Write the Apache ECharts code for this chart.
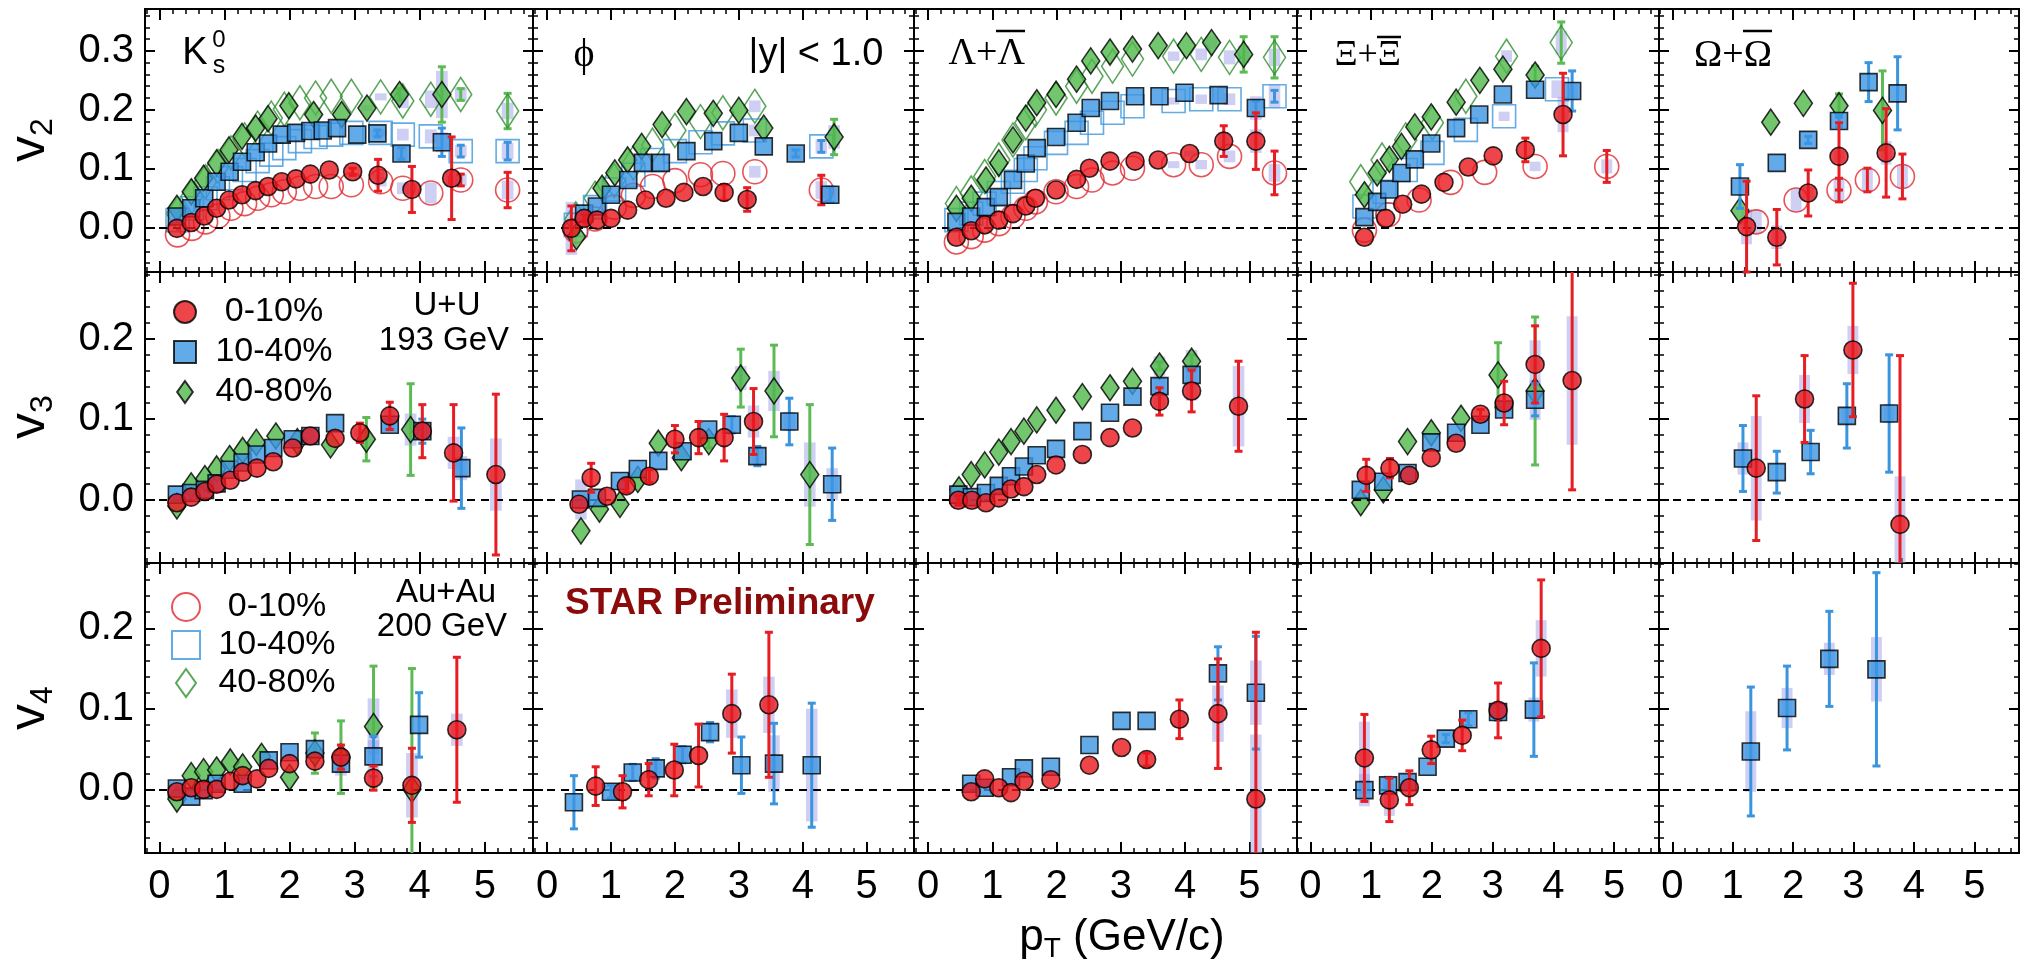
<!DOCTYPE html>
<html>
<head>
<meta charset="utf-8">
<script src="https://cdn.jsdelivr.net/npm/echarts@6/dist/echarts.min.js"></script>
<style>
html, body { margin: 0; padding: 0; background: #fff; }
#chart { width: 2026px; height: 963px; }
</style>
</head>
<body>
<div id="chart"></div>
<script>
// each point: [pT, v, stat err, sys err]

// ---- v2 ----
var v2_K0s_UU_0_10 = [[0.27,-0.001,0,0],[0.49,0.009,0,0],[0.69,0.020,0,0],[0.88,0.033,0,0],[1.07,0.047,0,0],[1.27,0.056,0,0],[1.48,0.063,0,0],[1.67,0.070,0,0],[1.88,0.078,0,0],[2.10,0.083,0,0],[2.32,0.091,0,0],[2.61,0.098,0,0],[2.97,0.095,0.006,0],[3.36,0.089,0.027,0.006],[3.88,0.065,0.039,0.01],[4.49,0.084,0.07,0.015]];
var v2_K0s_UU_10_40 = [[0.27,0.019,0,0],[0.49,0.033,0,0],[0.69,0.050,0,0],[0.88,0.078,0,0],[1.08,0.095,0,0],[1.27,0.112,0,0],[1.48,0.128,0,0],[1.67,0.143,0,0],[1.88,0.158,0,0],[2.10,0.161,0,0],[2.32,0.164,0,0],[2.51,0.165,0,0],[2.73,0.169,0,0],[3.04,0.158,0,0],[3.35,0.160,0.006,0.005],[3.72,0.126,0.01,0.01],[4.34,0.145,0.024,0.017]];
var v2_K0s_UU_40_80 = [[0.27,0.033,0,0],[0.49,0.061,0,0],[0.68,0.084,0,0],[0.88,0.110,0,0],[1.07,0.132,0,0],[1.27,0.155,0,0],[1.48,0.169,0,0],[1.67,0.185,0,0],[1.99,0.207,0,0],[2.37,0.192,0,0],[2.80,0.192,0,0],[3.19,0.203,0,0.005],[3.69,0.226,0.01,0.01],[4.34,0.226,0.047,0.04]];
var v2_K0s_Au_0_10 = [[0.28,-0.012,0,0],[0.50,-0.001,0,0],[0.71,0.010,0,0],[0.90,0.020,0,0],[1.10,0.033,0,0],[1.31,0.041,0,0],[1.51,0.050,0,0],[1.72,0.056,0,0],[1.92,0.061,0,0],[2.16,0.067,0,0],[2.40,0.070,0,0],[2.64,0.070,0,0],[2.95,0.073,0,0],[3.40,0.078,0,0.008],[3.74,0.067,0,0.01],[4.17,0.059,0,0.018],[4.63,0.081,0.01,0.01],[5.35,0.064,0.03,0.016]];
var v2_K0s_Au_10_40 = [[0.28,0.013,0,0],[0.50,0.033,0,0],[0.71,0.050,0,0],[0.90,0.067,0,0],[1.10,0.084,0,0],[1.31,0.098,0,0],[1.51,0.113,0,0],[1.72,0.124,0,0],[1.92,0.135,0,0],[2.16,0.147,0,0],[2.40,0.154,0,0],[2.64,0.158,0,0],[2.95,0.161,0,0],[3.40,0.161,0,0.006],[3.74,0.158,0,0.01],[4.17,0.155,0,0.012],[4.63,0.130,0.01,0.01],[5.35,0.130,0.015,0.014]];
var v2_K0s_Au_40_80 = [[0.28,0.024,0,0],[0.50,0.053,0,0],[0.71,0.078,0,0],[0.90,0.104,0,0],[1.10,0.127,0,0],[1.31,0.149,0,0],[1.51,0.169,0,0],[1.72,0.186,0,0],[1.92,0.201,0,0],[2.16,0.212,0,0],[2.40,0.220,0,0],[2.64,0.223,0,0],[2.95,0.223,0,0],[3.40,0.222,0,0.006],[3.74,0.215,0,0.012],[4.17,0.218,0,0.015],[4.63,0.226,0.01,0.012],[5.35,0.198,0.03,0.014]];

var v2_phi_UU_0_10 = [[0.38,-0.001,0.038,0.045],[0.58,0.016,0.006,0],[0.78,0.013,0,0],[1.00,0.016,0,0],[1.26,0.030,0,0],[1.54,0.047,0,0],[1.86,0.050,0,0],[2.14,0.060,0,0],[2.44,0.070,0,0],[2.77,0.060,0.013,0],[3.13,0.048,0.02,0.01]];
var v2_phi_UU_10_40 = [[0.58,0.024,0,0],[0.78,0.036,0,0],[1.00,0.056,0,0],[1.27,0.081,0,0],[1.50,0.110,0,0],[1.78,0.110,0,0],[2.18,0.130,0,0],[2.60,0.147,0,0],[3.00,0.161,0,0],[3.39,0.138,0,0],[3.89,0.126,0.006,0.01],[4.43,0.056,0.013,0.015]];
var v2_phi_UU_40_80 = [[0.46,-0.015,0,0],[0.86,0.067,0,0],[1.06,0.093,0,0],[1.26,0.115,0,0],[1.48,0.138,0,0],[1.80,0.175,0,0],[2.18,0.197,0,0],[2.60,0.194,0,0],[3.00,0.199,0,0],[3.39,0.169,0,0],[4.49,0.154,0.03,0.02]];
var v2_phi_Au_0_10 = [[0.45,-0.005,0,0],[0.75,0.015,0,0],[1.05,0.035,0,0],[1.35,0.055,0,0],[1.65,0.070,0,0],[2.00,0.080,0,0],[2.40,0.090,0,0],[2.75,0.092,0,0],[3.25,0.095,0,0.01],[4.29,0.064,0.025,0.015]];
var v2_phi_Au_10_40 = [[0.45,0.005,0,0],[0.75,0.035,0,0],[1.05,0.065,0,0],[1.35,0.090,0,0],[1.65,0.115,0,0],[2.00,0.130,0,0],[2.40,0.145,0,0],[2.75,0.160,0,0],[3.25,0.165,0,0.01],[4.29,0.138,0.01,0.012]];
var v2_phi_Au_40_80 = [[0.45,0.015,0,0],[0.75,0.050,0,0],[1.05,0.080,0,0],[1.35,0.110,0,0],[1.65,0.140,0,0],[2.00,0.165,0,0],[2.40,0.180,0,0],[2.75,0.195,0,0],[3.25,0.206,0,0.01]];

var v2_Lam_UU_0_10 = [[0.44,-0.016,0,0],[0.67,-0.005,0,0],[0.88,0.005,0,0],[1.10,0.013,0,0],[1.32,0.024,0,0],[1.52,0.037,0,0],[1.67,0.050,0,0],[1.99,0.064,0,0],[2.31,0.082,0,0],[2.51,0.101,0,0],[2.83,0.113,0,0],[3.22,0.113,0,0],[3.58,0.115,0,0],[4.07,0.126,0,0.005],[4.60,0.147,0.026,0.015],[5.10,0.147,0.048,0.02]];
var v2_Lam_UU_10_40 = [[0.44,0.010,0,0],[0.67,0.019,0,0],[0.90,0.035,0,0],[1.10,0.052,0,0],[1.32,0.081,0,0],[1.52,0.109,0,0],[1.69,0.135,0,0],[1.99,0.154,0,0],[2.31,0.178,0,0],[2.53,0.203,0,0],[2.83,0.215,0,0],[3.22,0.223,0,0],[3.60,0.223,0,0],[3.99,0.229,0,0],[4.52,0.225,0,0.01],[5.10,0.203,0.012,0.02]];
var v2_Lam_UU_40_80 = [[0.44,0.033,0,0],[0.67,0.050,0,0],[0.90,0.081,0,0],[1.10,0.110,0,0],[1.32,0.149,0,0],[1.52,0.186,0,0],[1.69,0.212,0,0],[1.99,0.226,0,0],[2.31,0.252,0,0],[2.53,0.283,0,0],[2.83,0.298,0,0],[3.18,0.303,0,0],[3.58,0.309,0,0],[4.02,0.309,0,0],[4.41,0.314,0,0.01],[4.91,0.294,0.03,0.015]];
var v2_Lam_Au_0_10 = [[0.44,-0.024,0,0],[0.67,-0.015,0,0],[0.88,-0.004,0,0],[1.10,0.007,0,0],[1.32,0.019,0,0],[1.52,0.033,0,0],[1.67,0.044,0,0],[1.99,0.061,0,0],[2.31,0.070,0,0],[2.55,0.081,0,0],[2.87,0.093,0,0],[3.18,0.101,0,0],[3.82,0.107,0,0.006],[4.25,0.107,0,0.008],[4.69,0.121,0,0.01],[5.39,0.093,0.037,0.015]];
var v2_Lam_Au_10_40 = [[0.44,0.013,0,0],[0.67,0.024,0,0],[0.88,0.041,0,0],[1.10,0.059,0,0],[1.32,0.078,0,0],[1.52,0.098,0,0],[1.67,0.118,0,0],[1.99,0.144,0,0],[2.31,0.161,0,0],[2.55,0.178,0,0],[2.87,0.195,0,0],[3.18,0.206,0,0],[3.82,0.215,0,0.006],[4.25,0.218,0,0.008],[4.69,0.218,0,0.01],[5.39,0.223,0.01,0.02]];
var v2_Lam_Au_40_80 = [[0.44,0.041,0,0],[0.67,0.059,0,0],[0.88,0.087,0,0],[1.10,0.115,0,0],[1.32,0.149,0,0],[1.52,0.178,0,0],[1.67,0.200,0,0],[1.99,0.220,0,0],[2.31,0.240,0,0],[2.55,0.257,0,0],[2.87,0.274,0,0],[3.18,0.286,0,0],[3.82,0.291,0,0.008],[4.25,0.294,0,0.01],[4.69,0.289,0,0.012],[5.39,0.289,0.035,0.015]];

var v2_Xi_UU_0_10 = [[0.89,-0.016,0,0],[1.24,0.016,0,0],[1.52,0.040,0,0],[1.83,0.057,0,0],[2.20,0.077,0,0],[2.60,0.103,0,0],[3.01,0.122,0,0],[3.54,0.132,0.02,0],[4.16,0.192,0.07,0.03]];
var v2_Xi_UU_10_40 = [[0.89,0.018,0,0],[1.10,0.044,0,0],[1.30,0.065,0,0],[1.50,0.093,0,0],[1.72,0.116,0,0],[1.99,0.143,0,0],[2.40,0.169,0,0],[2.78,0.192,0,0],[3.17,0.226,0,0],[3.70,0.234,0,0],[4.31,0.232,0.034,0.015]];
var v2_Xi_UU_40_80 = [[0.89,0.056,0,0],[1.10,0.093,0,0],[1.30,0.116,0,0],[1.50,0.138,0,0],[1.72,0.171,0,0],[1.99,0.188,0,0],[2.40,0.213,0,0],[2.79,0.250,0,0],[3.17,0.269,0,0],[3.70,0.259,0.015,0]];
var v2_Xi_Au_0_10 = [[0.89,-0.004,0,0],[1.28,0.022,0,0],[1.79,0.047,0,0],[2.31,0.077,0,0],[2.87,0.094,0,0],[3.70,0.104,0,0.008],[4.88,0.104,0.027,0.012]];
var v2_Xi_Au_10_40 = [[0.89,0.036,0,0],[1.22,0.061,0,0],[1.57,0.098,0,0],[2.01,0.127,0,0],[2.56,0.166,0,0],[3.19,0.189,0,0.008],[4.06,0.235,0,0.015]];
var v2_Xi_Au_40_80 = [[0.83,0.078,0,0],[1.18,0.115,0,0],[1.57,0.149,0,0],[2.01,0.178,0,0],[2.56,0.223,0,0],[3.23,0.291,0,0.01],[4.13,0.314,0.035,0.02]];

var v2_Omg_UU_0_10 = [[1.23,0.002,0.077,0.03],[1.73,-0.016,0.047,0.02],[2.25,0.059,0.039,0.01],[2.76,0.121,0.057,0.01],[3.54,0.127,0.075,0.02]];
var v2_Omg_UU_10_40 = [[1.12,0.070,0.037,0],[1.73,0.110,0,0],[2.25,0.149,0.006,0],[2.76,0.181,0.01,0],[3.25,0.247,0.033,0],[3.73,0.228,0.062,0]];
var v2_Omg_UU_40_80 = [[1.12,0.029,0,0],[1.63,0.179,0,0],[2.17,0.211,0,0],[2.76,0.207,0.02,0],[3.48,0.199,0.067,0]];
var v2_Omg_Au_0_10 = [[1.39,0.010,0,0.02],[2.05,0.047,0,0.02],[2.76,0.064,0.02,0.02],[3.23,0.081,0.02,0.02],[3.81,0.087,0.038,0.02]];

// ---- v3 ----
var v3_K0s_UU_0_10 = [[0.27,-0.004,0,0],[0.49,0.003,0,0],[0.70,0.010,0,0],[0.88,0.019,0,0],[1.09,0.024,0,0],[1.28,0.034,0,0],[1.50,0.039,0,0],[1.75,0.047,0,0],[2.05,0.064,0,0],[2.32,0.079,0,0],[2.70,0.076,0,0],[3.08,0.083,0.012,0.005],[3.54,0.104,0.017,0.008],[4.04,0.085,0.033,0.01],[4.52,0.058,0.06,0.02],[5.17,0.031,0.10,0.045]];
var v3_K0s_UU_10_40 = [[0.27,0.006,0,0],[0.49,0.008,0,0],[0.70,0.012,0,0],[0.88,0.020,0,0],[1.08,0.037,0,0],[1.28,0.046,0,0],[1.50,0.056,0,0],[1.75,0.064,0,0],[2.05,0.075,0,0],[2.32,0.079,0,0],[2.70,0.095,0,0],[3.54,0.093,0.006,0.008],[4.04,0.085,0.015,0.01],[4.64,0.039,0.05,0.015]];
var v3_K0s_UU_40_80 = [[0.27,-0.008,0,0],[0.49,0.017,0,0],[0.70,0.026,0,0],[0.88,0.038,0,0],[1.08,0.051,0,0],[1.28,0.061,0,0],[1.49,0.071,0,0],[1.79,0.079,0,0],[2.12,0.072,0,0],[2.63,0.068,0,0],[3.18,0.075,0.027,0],[3.86,0.087,0.057,0.02]];

var v3_phi_UU_0_10 = [[0.50,-0.006,0,0],[0.69,0.027,0.018,0],[0.94,0.004,0,0],[1.24,0.017,0.008,0],[1.60,0.029,0.008,0],[2.00,0.075,0.017,0],[2.37,0.077,0.02,0],[2.77,0.077,0.029,0],[3.23,0.097,0.041,0.02]];
var v3_phi_UU_10_40 = [[0.53,0.0,0,0.025],[0.78,0.002,0,0],[1.14,0.023,0,0],[1.42,0.038,0,0],[1.74,0.048,0,0],[2.12,0.060,0,0],[2.52,0.087,0,0],[2.89,0.093,0.01,0],[3.29,0.054,0.012,0.01],[3.79,0.097,0.029,0.012],[4.46,0.019,0.045,0.02]];
var v3_phi_UU_40_80 = [[0.53,-0.039,0,0],[0.82,-0.012,0,0],[1.14,-0.006,0,0],[1.42,0.025,0,0],[1.74,0.070,0,0],[2.10,0.052,0,0],[2.53,0.072,0.008,0],[3.03,0.151,0.036,0.015],[3.55,0.135,0.057,0.025],[4.11,0.031,0.087,0.04]];

var v3_Lam_UU_0_10 = [[0.47,-0.001,0.006,0],[0.68,-0.001,0,0],[0.90,-0.004,0,0],[1.10,0.002,0,0],[1.29,0.013,0,0],[1.49,0.016,0,0],[1.69,0.031,0,0],[1.99,0.043,0,0],[2.40,0.056,0,0],[2.83,0.077,0,0],[3.18,0.089,0,0],[3.60,0.122,0.017,0.01],[4.10,0.135,0.026,0.012],[4.83,0.116,0.056,0.05]];
var v3_Lam_UU_10_40 = [[0.47,0.006,0,0],[0.68,0.003,0,0],[0.90,0.008,0,0],[1.10,0.017,0,0],[1.29,0.029,0,0],[1.49,0.041,0,0],[1.69,0.055,0,0],[1.99,0.063,0,0],[2.40,0.085,0,0],[2.83,0.108,0,0],[3.18,0.128,0,0],[3.60,0.141,0,0.012],[4.10,0.155,0,0.012]];
var v3_Lam_UU_40_80 = [[0.48,0.012,0,0],[0.67,0.031,0,0],[0.88,0.043,0,0],[1.10,0.059,0,0],[1.29,0.072,0,0],[1.49,0.085,0,0],[1.69,0.099,0,0],[1.99,0.111,0,0],[2.40,0.128,0,0],[2.83,0.139,0,0],[3.18,0.147,0,0],[3.60,0.166,0.005,0.012],[4.10,0.172,0.008,0.014]];

var v3_Xi_UU_0_10 = [[0.92,0.030,0.02,0],[1.31,0.039,0.012,0],[1.63,0.030,0,0],[1.99,0.052,0,0],[2.40,0.070,0,0],[2.80,0.106,0.006,0],[3.19,0.120,0.027,0],[3.70,0.168,0.048,0.03],[4.31,0.148,0.136,0.08]];
var v3_Xi_UU_10_40 = [[0.83,0.012,0,0],[1.20,0.022,0,0],[1.60,0.033,0,0],[1.99,0.071,0,0],[2.40,0.083,0,0],[2.80,0.093,0,0],[3.19,0.112,0,0],[3.70,0.124,0.02,0.025]];
var v3_Xi_UU_40_80 = [[0.83,-0.004,0,0],[1.20,0.012,0,0],[1.60,0.072,0,0],[1.99,0.083,0,0],[2.48,0.101,0,0],[3.09,0.155,0.04,0],[3.70,0.135,0.092,0]];

var v3_Omg_UU_0_10 = [[1.39,0.039,0.09,0.065],[2.19,0.125,0.054,0.03],[2.99,0.186,0.083,0.03],[3.77,-0.031,0.21,0.06]];
var v3_Omg_UU_10_40 = [[1.17,0.051,0.041,0.02],[1.73,0.034,0.026,0],[2.29,0.059,0.027,0],[2.89,0.104,0.04,0.01],[3.59,0.107,0.073,0.012]];

// ---- v4 ----
var v4_K0s_UU_0_10 = [[0.27,-0.003,0,0],[0.49,0.002,0,0],[0.68,0.0,0,0],[0.88,0.0,0,0],[1.09,0.010,0,0],[1.28,0.017,0,0],[1.50,0.013,0,0],[1.68,0.026,0,0],[2.00,0.032,0,0],[2.39,0.035,0,0],[2.79,0.040,0.015,0.01],[3.29,0.014,0.015,0.01],[3.88,0.005,0.046,0.04],[4.57,0.074,0.09,0.02]];
var v4_K0s_UU_10_40 = [[0.27,0.001,0,0],[0.49,-0.009,0,0],[0.68,-0.001,0,0],[0.88,0.007,0,0],[1.28,0.007,0,0],[1.68,0.036,0,0],[2.00,0.046,0,0],[2.39,0.050,0,0],[2.79,0.032,0,0.015],[3.29,0.041,0.025,0.02],[3.99,0.080,0.04,0]];
var v4_K0s_UU_40_80 = [[0.27,-0.012,0,0],[0.49,0.017,0,0],[0.68,0.022,0,0],[0.88,0.024,0,0],[1.09,0.034,0,0],[1.28,0.028,0,0],[1.57,0.041,0,0],[2.00,0.015,0,0],[2.39,0.045,0.025,0],[2.79,0.040,0.045,0],[3.29,0.078,0.075,0.035],[3.88,0.0,0.15,0]];

var v4_phi_UU_0_10 = [[0.76,0.004,0.024,0],[1.18,-0.003,0.02,0],[1.59,0.012,0.02,0],[1.99,0.024,0.032,0],[2.37,0.042,0.039,0],[2.89,0.094,0.049,0.03],[3.47,0.105,0.09,0.035]];
var v4_phi_UU_10_40 = [[0.42,-0.016,0.033,0],[1.00,-0.003,0.008,0],[1.34,0.021,0.01,0],[1.70,0.026,0.012,0.008],[2.12,0.043,0.01,0.01],[2.55,0.071,0.012,0],[3.04,0.030,0.035,0],[3.55,0.032,0.05,0.035],[4.14,0.030,0.077,0.07]];

var v4_Lam_UU_0_10 = [[0.67,-0.003,0,0],[0.88,0.013,0,0],[1.10,0.002,0,0],[1.29,-0.004,0,0],[1.49,0.010,0,0],[1.91,0.012,0,0],[2.51,0.030,0,0],[3.01,0.052,0,0],[3.40,0.037,0.008,0],[3.91,0.087,0.024,0.01],[4.51,0.094,0.068,0.035],[5.10,-0.012,0.207,0.08]];
var v4_Lam_UU_10_40 = [[0.67,0.007,0,0],[0.88,0.002,0,0],[1.29,0.015,0,0],[1.49,0.026,0,0],[1.91,0.028,0,0],[2.51,0.055,0,0],[3.01,0.085,0,0],[3.40,0.085,0,0],[4.51,0.144,0.033,0.01],[5.10,0.120,0.07,0.04]];

var v4_Xi_UU_0_10 = [[0.89,0.039,0.054,0.045],[1.30,-0.013,0.027,0.02],[1.63,0.002,0.021,0],[1.99,0.049,0.017,0],[2.50,0.067,0.019,0],[3.09,0.098,0.034,0.01],[3.80,0.175,0.085,0.035]];
var v4_Xi_UU_10_40 = [[0.89,-0.001,0,0.02],[1.28,0.005,0.01,0.01],[1.60,0.009,0,0.01],[1.93,0.028,0,0],[2.23,0.063,0.005,0],[2.60,0.087,0.008,0],[3.09,0.096,0.01,0.008],[3.68,0.099,0.058,0.015]];

var v4_Omg_UU_10_40 = [[1.30,0.047,0.08,0.05],[1.90,0.101,0.052,0.025],[2.60,0.162,0.059,0.02],[3.38,0.149,0.12,0.04]];

// tick labels
var xTicks = [0, 1, 2, 3, 4, 5];
var yTicksV2 = [0, 0.1, 0.2, 0.3];
var yTicksV34 = [0, 0.1, 0.2];
var centralities = ['0-10%', '10-40%', '40-80%'];

var E = [];
var panels = [
    {row: 0, col: 0, uu: [v2_K0s_UU_0_10, v2_K0s_UU_10_40, v2_K0s_UU_40_80], au: [v2_K0s_Au_0_10, v2_K0s_Au_10_40, v2_K0s_Au_40_80]},
    {row: 0, col: 1, uu: [v2_phi_UU_0_10, v2_phi_UU_10_40, v2_phi_UU_40_80], au: [v2_phi_Au_0_10, v2_phi_Au_10_40, v2_phi_Au_40_80]},
    {row: 0, col: 2, uu: [v2_Lam_UU_0_10, v2_Lam_UU_10_40, v2_Lam_UU_40_80], au: [v2_Lam_Au_0_10, v2_Lam_Au_10_40, v2_Lam_Au_40_80]},
    {row: 0, col: 3, uu: [v2_Xi_UU_0_10, v2_Xi_UU_10_40, v2_Xi_UU_40_80], au: [v2_Xi_Au_0_10, v2_Xi_Au_10_40, v2_Xi_Au_40_80]},
    {row: 0, col: 4, uu: [v2_Omg_UU_0_10, v2_Omg_UU_10_40, v2_Omg_UU_40_80], au: [v2_Omg_Au_0_10, E, E]},
    {row: 1, col: 0, uu: [v3_K0s_UU_0_10, v3_K0s_UU_10_40, v3_K0s_UU_40_80], au: [E, E, E]},
    {row: 1, col: 1, uu: [v3_phi_UU_0_10, v3_phi_UU_10_40, v3_phi_UU_40_80], au: [E, E, E]},
    {row: 1, col: 2, uu: [v3_Lam_UU_0_10, v3_Lam_UU_10_40, v3_Lam_UU_40_80], au: [E, E, E]},
    {row: 1, col: 3, uu: [v3_Xi_UU_0_10, v3_Xi_UU_10_40, v3_Xi_UU_40_80], au: [E, E, E]},
    {row: 1, col: 4, uu: [v3_Omg_UU_0_10, v3_Omg_UU_10_40, E], au: [E, E, E]},
    {row: 2, col: 0, uu: [v4_K0s_UU_0_10, v4_K0s_UU_10_40, v4_K0s_UU_40_80], au: [E, E, E]},
    {row: 2, col: 1, uu: [v4_phi_UU_0_10, v4_phi_UU_10_40, E], au: [E, E, E]},
    {row: 2, col: 2, uu: [v4_Lam_UU_0_10, v4_Lam_UU_10_40, E], au: [E, E, E]},
    {row: 2, col: 3, uu: [v4_Xi_UU_0_10, v4_Xi_UU_10_40, E], au: [E, E, E]},
    {row: 2, col: 4, uu: [E, v4_Omg_UU_10_40, E], au: [E, E, E]}
];

// layout (pixels) and axis ranges
var colLeft = [145, 533, 914, 1297, 1659];
var colRight = [533, 914, 1297, 1659, 2019];
var rowTop = [9, 272, 563];
var rowBottom = [272, 563, 853];
var xRange = [-0.22, 5.74];
var yRanges = [[-0.075, 0.371], [-0.079, 0.283], [-0.079, 0.281]];

var FONT = '"Liberation Sans", Arial, sans-serif';
var SERIF = '"Liberation Serif", "DejaVu Serif", serif';
var fillColor = ['#e8161c', '#3c95e2', '#4fb84a'];
var openColor = ['#e0282e', '#3d97dc', '#2f8f2f'];
var errColor = ['#e61e24', '#3a94de', '#5dbb55'];
var SYS = 'rgba(160,160,232,0.5)';
var filledSym = ['circle', 'rect', 'diamond'];
var filledSize = [18, 17, [18, 26]];
var openSize = [24, 23, [22, 34]];
var SQUARE_ICON = 'path://M0,0H10V10H0Z';
var DIAMOND_ICON = 'path://M5,0L10,7L5,14L0,7Z';

function minorValues(lo, hi, step, majors) {
    var out = [];
    for (var i = Math.ceil(lo / step - 1e-9); i <= Math.floor(hi / step + 1e-9); i++) {
        var v = +(i * step).toFixed(4);
        if (majors.indexOf(v) < 0) out.push(v);
    }
    return out;
}

function makeAxis(g, pos, range, ticks, len, width, label) {
    var a = {
        type: 'value', gridIndex: g, position: pos, min: range[0], max: range[1],
        splitLine: {show: false},
        axisLine: {show: false, onZero: false},
        axisTick: {show: true, inside: true, length: len, customValues: ticks, lineStyle: {color: '#000', width: width}},
        axisLabel: {show: false}
    };
    if (label) a.axisLabel = label;
    return a;
}

var grids = [], xAxes = [], yAxes = [], series = [];

panels.forEach(function (p, g) {
    var yr = yRanges[p.row];
    var yMajor = p.row === 0 ? yTicksV2 : yTicksV34;
    var xMinor = minorValues(xRange[0], xRange[1], 0.2, xTicks);
    var yMinor = minorValues(yr[0], yr[1], 0.02, yMajor);

    grids.push({
        left: colLeft[p.col], top: rowTop[p.row],
        width: colRight[p.col] - colLeft[p.col], height: rowBottom[p.row] - rowTop[p.row],
        show: true, borderColor: '#000', borderWidth: 2, backgroundColor: 'transparent',
        containLabel: false, outerBoundsMode: 'none'
    });

    var xLabel = p.row === 2 ? {show: true, customValues: xTicks, fontSize: 40, fontFamily: FONT, color: '#000', margin: 14} : null;
    var yLabel = p.col === 0 ? {
        show: true, customValues: yMajor, fontSize: 40, fontFamily: FONT, color: '#000', margin: 11,
        formatter: function (v) { return v.toFixed(1); }
    } : null;

    xAxes.push(makeAxis(g, 'bottom', xRange, xTicks, 11, 2, xLabel));
    xAxes.push(makeAxis(g, 'bottom', xRange, xMinor, 5, 1.5));
    xAxes.push(makeAxis(g, 'top', xRange, xTicks, 11, 2));
    xAxes.push(makeAxis(g, 'top', xRange, xMinor, 5, 1.5));
    yAxes.push(makeAxis(g, 'left', yr, yMajor, 10, 2, yLabel));
    yAxes.push(makeAxis(g, 'left', yr, yMinor, 5, 1.5));
    yAxes.push(makeAxis(g, 'right', yr, yMajor, 10, 2));
    yAxes.push(makeAxis(g, 'right', yr, yMinor, 5, 1.5));

    var xi = 4 * g, yi = 4 * g;

    // dashed zero line
    series.push({
        type: 'scatter', xAxisIndex: xi, yAxisIndex: yi, data: [], z: 1, silent: true,
        markLine: {
            silent: true, symbol: ['none', 'none'], label: {show: false}, animation: false,
            lineStyle: {color: '#000', type: [8, 6], width: 2},
            data: [{yAxis: 0}]
        }
    });

    // systematic boxes
    var all = [];
    p.uu.concat(p.au).forEach(function (d) { all = all.concat(d); });
    series.push({
        type: 'custom', xAxisIndex: xi, yAxisIndex: yi, data: all, z: 1, silent: true,
        encode: {x: 0, y: 1},
        renderItem: function (params, api) {
            var s = api.value(3);
            if (!s) return null;
            var x = api.value(0), y = api.value(1);
            var a = api.coord([x - 0.09, Math.min(y + s, yr[1])]);
            var b = api.coord([x + 0.09, Math.max(y - s, yr[0])]);
            return {type: 'rect', shape: {x: a[0], y: a[1], width: b[0] - a[0], height: b[1] - a[1]}, style: {fill: SYS}};
        }
    });

    function errSeries(data, color, z) {
        return {
            type: 'custom', xAxisIndex: xi, yAxisIndex: yi, data: data, z: z, silent: true,
            encode: {x: 0, y: 1},
            renderItem: function (params, api) {
                var e = api.value(2);
                if (!e) return null;
                var x = api.value(0), y = api.value(1);
                var a = api.coord([x, Math.min(y + e, yr[1])]);
                var b = api.coord([x, Math.max(y - e, yr[0])]);
                var st = {stroke: color, lineWidth: 3};
                var kids = [{type: 'line', shape: {x1: a[0], y1: a[1], x2: b[0], y2: b[1]}, style: st}];
                if (y + e <= yr[1]) kids.push({type: 'line', shape: {x1: a[0] - 4, y1: a[1], x2: a[0] + 4, y2: a[1]}, style: st});
                if (y - e >= yr[0]) kids.push({type: 'line', shape: {x1: b[0] - 4, y1: b[1], x2: b[0] + 4, y2: b[1]}, style: st});
                return {type: 'group', children: kids};
            }
        };
    }

    // Au+Au open markers (drawn underneath)
    for (var k = 2; k >= 0; k--) {
        series.push({
            type: 'scatter', name: 'Au ' + centralities[k], xAxisIndex: xi, yAxisIndex: yi,
            data: p.au[k], z: 2, silent: true,
            symbol: filledSym[k], symbolSize: openSize[k],
            itemStyle: {color: 'rgba(255,255,255,0)', borderColor: openColor[k], borderWidth: 1.6}
        });
        series.push(errSeries(p.au[k], errColor[k], 2));
    }
    // U+U filled markers
    for (k = 2; k >= 0; k--) {
        series.push(errSeries(p.uu[k], errColor[k], 3 + (2 - k) * 2));
        series.push({
            type: 'scatter', name: 'UU ' + centralities[k], xAxisIndex: xi, yAxisIndex: yi,
            data: p.uu[k], z: 4 + (2 - k) * 2, silent: true,
            symbol: filledSym[k], symbolSize: filledSize[k],
            itemStyle: {color: fillColor[k], borderColor: '#000', borderWidth: 1.6}
        });
    }
});

function vTitle(n, y) {
    return {
        type: 'text', x: 30, y: y, rotation: Math.PI / 2,
        style: {
            text: '{v|v}{s|' + n + '}', align: 'center', verticalAlign: 'middle',
            rich: {
                v: {fontSize: 52, fontFamily: FONT, fill: '#000', lineHeight: 58},
                s: {fontSize: 32, fontFamily: FONT, fill: '#000', lineHeight: 32, verticalAlign: 'bottom'}
            }
        }
    };
}

function label(text, x, y, size, family, align, extra) {
    var st = {text: text, fontSize: size, fontFamily: family, fill: '#000', align: align || 'center', verticalAlign: 'middle'};
    if (extra) for (var key in extra) st[key] = extra[key];
    return {type: 'text', x: x, y: y, style: st};
}

function overline(x1, x2, y) {
    return {type: 'line', shape: {x1: x1, y1: y, x2: x2, y2: y}, style: {stroke: '#000', lineWidth: 2.5}};
}

var graphics = [
    vTitle('2', 140), vTitle('3', 417), vTitle('4', 708),
    label('K', 195, 54, 38, FONT),
    label('0', 219, 40, 24, FONT),
    label('s', 219, 66, 25, FONT),
    label('\u03D5', 584, 55, 40, SERIF),
    label('|y| < 1.0', 816, 55, 38, FONT),
    label('\u039B+\u039B', 1025, 54, 38, SERIF, 'right'),
    overline(996, 1025, 31),
    label('\u039E+\u039E', 1401, 56, 36, SERIF, 'right'),
    overline(1377, 1401, 37),
    label('\u03A9+\u03A9', 1772, 56, 38, SERIF, 'right'),
    overline(1743, 1772, 31),
    label('U+U', 447, 306, 33, FONT),
    label('193 GeV', 444, 341, 33, FONT),
    label('Au+Au', 446, 593, 33, FONT),
    label('200 GeV', 442, 627, 33, FONT),
    label('STAR Preliminary', 565, 604, 37, FONT, 'left', {fontWeight: 'bold', fill: '#8b0a0a'}),
    {
        type: 'text', x: 1122, y: 938,
        style: {
            text: '{p|p}{s|T}{t| (GeV/c)}', align: 'center', verticalAlign: 'middle',
            rich: {
                p: {fontSize: 44, fontFamily: FONT, fill: '#000', lineHeight: 50},
                s: {fontSize: 28, fontFamily: FONT, fill: '#000', lineHeight: 28, verticalAlign: 'bottom'},
                t: {fontSize: 44, fontFamily: FONT, fill: '#000', lineHeight: 50}
            }
        }
    }
];

var legendText = {
    fontSize: 34, fontFamily: FONT, color: '#000', lineHeight: 34,
    rich: {c: {width: 124, align: 'center', fontSize: 34, fontFamily: FONT, color: '#000', lineHeight: 34}}
};
var legendFormatter = function (name) { return '{c|' + name.slice(name.indexOf(' ') + 1) + '}'; };

var chart = echarts.init(document.getElementById('chart'));
chart.setOption({
    animation: false,
    backgroundColor: '#fff',
    textStyle: {fontFamily: FONT},
    grid: grids,
    xAxis: xAxes,
    yAxis: yAxes,
    legend: [{
        orient: 'vertical', left: 168, top: 290, itemWidth: 44, itemHeight: 22, itemGap: 6,
        selectedMode: false, formatter: legendFormatter, textStyle: legendText,
        data: [{name: 'UU 0-10%', icon: 'circle'}, {name: 'UU 10-40%', icon: SQUARE_ICON}, {name: 'UU 40-80%', icon: DIAMOND_ICON}]
    }, {
        orient: 'vertical', left: 166, top: 585, itemWidth: 48, itemHeight: 28, itemGap: 4,
        selectedMode: false, formatter: legendFormatter, textStyle: legendText,
        data: [{name: 'Au 0-10%', icon: 'circle'}, {name: 'Au 10-40%', icon: SQUARE_ICON}, {name: 'Au 40-80%', icon: DIAMOND_ICON}]
    }],
    graphic: graphics,
    series: series
});
</script>
</body>
</html>
